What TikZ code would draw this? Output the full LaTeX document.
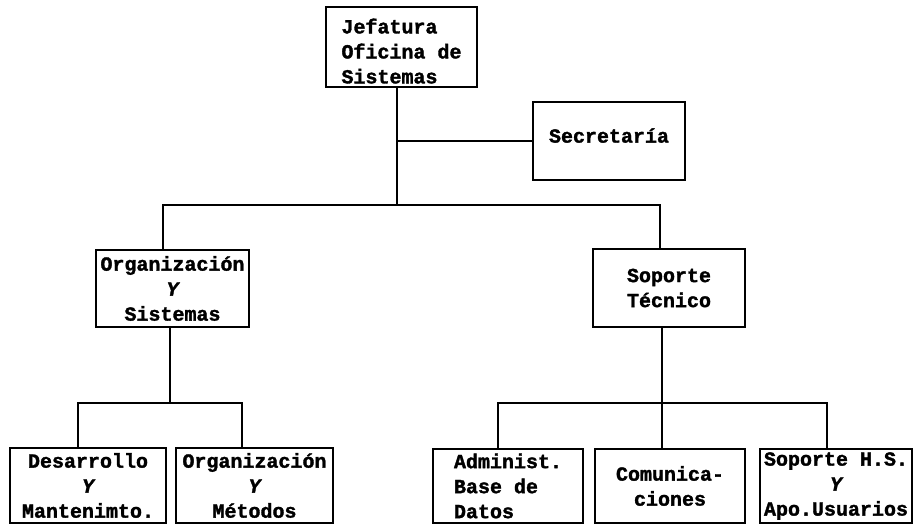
\documentclass[tikz,border=0pt]{standalone}
\usepackage{fontspec}
\setmainfont{Liberation Mono}[BoldFeatures={FakeBold=1.6},BoldItalicFeatures={FakeBold=1.6}]
\begin{document}
\begin{tikzpicture}[x=1pt,y=-1pt,
  box/.style={draw, line width=2pt, inner sep=0pt, align=center,
    font=\fontsize{20}{25}\selectfont\bfseries},
  wire/.style={line width=1.8pt}]
\useasboundingbox (0,0) rectangle (916,526);

% units
\node[box, align=left, minimum width=151, minimum height=80] (jef) at (401.5,47)
  {\rule{0pt}{23pt}Jefatura\\Oficina de\\Sistemas};
\node[box, minimum width=152, minimum height=78] (sec) at (609,141)
  {\rule[-11pt]{0pt}{0pt}Secretaría};
\node[box, minimum width=153, minimum height=77] (oys) at (172.5,288.5)
  {Organización\\{\itshape Y}\\Sistemas};
\node[box, minimum width=152, minimum height=78] (st) at (669,288) {Soporte\\Técnico};
\node[box, minimum width=156, minimum height=75] (dm) at (88,485.5)
  {Desarrollo\\{\itshape Y}\\Mantenimto.};
\node[box, minimum width=157, minimum height=75] (om) at (254.5,485.5)
  {Organización\\{\itshape Y}\\Métodos};
\node[box, align=left, minimum width=150, minimum height=74] (abd) at (508,486)
  {Administ.\\Base de\\Datos};
\node[box, minimum width=150, minimum height=74] (com) at (670,486) {Comunica-\\ciones};
\node[box, minimum width=152, minimum height=74] (shs) at (836,486)
  {Soporte H.S.\\{\itshape Y}\\Apo.Usuarios};

% junction points
\coordinate (trunk) at (397,205);
\coordinate (hl) at (163,205);
\coordinate (hr) at (660,205);
\coordinate (lj) at (170,403);
\coordinate (ll) at (78,403);
\coordinate (lr) at (242,403);
\coordinate (rj) at (662,403);
\coordinate (rl) at (498,403);
\coordinate (rr) at (827,403);

% head and secretary
\draw[wire] (trunk |- jef.south) -- (trunk);
\draw[wire] (trunk |- sec.west) -- (sec.west);
% first level
\draw[wire] (hl |- oys.north) -- (hl) -- (hr) -- (hr |- st.north);
% left branch
\draw[wire] (lj |- oys.south) -- (lj);
\draw[wire] (ll |- dm.north) -- (ll) -- (lr) -- (lr |- om.north);
% right branch
\draw[wire] (rj |- st.south) -- (rj |- com.north);
\draw[wire] (rl |- abd.north) -- (rl) -- (rr) -- (rr |- shs.north);
\end{tikzpicture}
\end{document}
